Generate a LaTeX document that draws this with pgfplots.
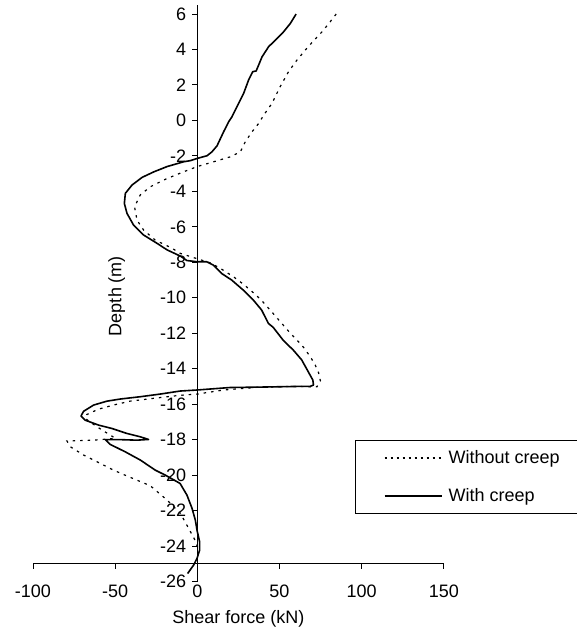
\documentclass[border=0pt]{standalone}
\usepackage{fontspec}
\setmainfont{Liberation Sans}
\usepackage{pgfplots}
\pgfplotsset{compat=1.18}

\begin{document}
\fontsize{18}{22}\selectfont
\begin{tikzpicture}
  \begin{axis}[
      at={(0,0)}, anchor=south west,
      scale only axis, width=410.8pt, height=576.3pt,
      xmin=-100, xmax=150, ymin=-26, ymax=6.5,
      axis x line=none, axis y line=middle,
      axis line style={-, line width=1pt},
      xtick=\empty,
      ytick={-26,-24,...,6},
      yticklabels={-26,-24,-22,-20,-18,-16,-14,-12,-10,-8,-6,-4,-2,0,2,4,6},
      tick align=outside, major tick length=5pt,
      tick style={black, line width=1pt},
      clip=false,
      legend image code/.code={\draw[#1] (0pt,0pt) -- (57pt,0pt);},
      legend style={at={(axis cs:96,-18.02)}, anchor=north west,
        draw=black, line width=1pt, inner xsep=28pt, inner ysep=10pt,
        row sep=22pt, column sep=6pt, nodes={inner sep=0pt},
        cells={anchor=west}},
    ]
    % without creep
    \addplot[forget plot, black, line width=1.2pt, dash pattern=on 2.5pt off 5pt] coordinates {
      (84.5,6.0) (80.9,5.57) (75.9,5.0) (70.8,4.5) (65.7,3.97) (60.6,3.4)
      (55.5,2.75) (50.4,1.9) (45.4,0.96) (40.4,0.3) (37.3,-0.17) (33.3,-0.64)
      (29.2,-1.2) (26.2,-1.77) (20.1,-2.05) (11,-2.3) (0,-2.6) (-9.3,-2.93)
      (-19.5,-3.32) (-28.6,-3.74) (-34.7,-4.2) (-38.2,-4.87) (-36.7,-5.62)
      (-32.7,-6.18) (-25.6,-6.75) (-15.5,-7.2) (-10.3,-7.5) (0,-7.8)
      (7.9,-8.03) (14,-8.34) (22.1,-8.82) (28,-9.23) (35.3,-9.81) (39.3,-10.17)
      (44.4,-10.7) (50.5,-11.35) (56.6,-12.0) (60.7,-12.39) (64.7,-12.8)
      (68.8,-13.33) (71.8,-13.8) (73.8,-14.23) (74.9,-14.68) (72.8,-15.02)
      (56.6,-15.0) (36.3,-15.05) (16,-15.2) (0,-15.43) (-10.5,-15.5)
      (-26.6,-15.67) (-40.9,-15.83) (-51,-16.05) (-60.1,-16.28) (-67.2,-16.58)
      (-68.2,-16.8) (-64.1,-17.08) (-58,-17.46) (-53,-17.74) (-49.9,-17.93)
      (-63.1,-18.03) (-79.3,-18.08) (-77.3,-18.4) (-69.2,-18.87) (-61,-19.25)
      (-51,-19.72) (-42.8,-20.05) (-28.6,-20.6) (-18.5,-21.4) (-10.3,-22.16)
      (-5.3,-23.0) (-1.4,-23.67) (0.3,-24.1)
    };
    % with creep
    \addplot[forget plot, black, line width=1.6pt, line join=round] coordinates {
      (60.1,6.0) (56.6,5.47) (52.5,5.0) (47.5,4.53) (43.4,4.16) (39.4,3.59)
      (37.3,3.12) (35.8,2.79) (33.7,2.75) (31.2,2.28) (28.2,1.53) (24.1,0.77)
      (21.1,0.21) (19.1,-0.07) (16,-0.64) (12,-1.43) (8.9,-1.77) (5.9,-1.99)
      (0,-2.14) (-4.4,-2.27) (-8.3,-2.33) (-18.4,-2.6) (-26.5,-2.9)
      (-33.6,-3.21) (-39.7,-3.64) (-43.8,-4.11) (-44.4,-4.68) (-42.8,-5.24)
      (-38.8,-5.9) (-32.7,-6.46) (-24.5,-6.93) (-18.4,-7.3) (-10.3,-7.65)
      (-6.3,-7.9) (0,-7.97) (5.7,-7.97) (9.8,-8.16) (14.8,-8.63) (20.9,-9.0)
      (28,-9.57) (34.1,-10.13) (39.2,-10.7) (43.2,-11.44) (46.2,-11.67)
      (52.3,-12.4) (58.4,-12.95) (63.5,-13.5) (67.5,-14.17) (70.3,-14.64)
      (70.7,-14.92) (68.6,-15.0) (60.5,-15.0) (36.3,-15.04) (20,-15.06)
      (0,-15.2) (-10.5,-15.26) (-22.6,-15.43) (-34.7,-15.58) (-46.9,-15.71)
      (-55,-15.83) (-63.1,-16.05) (-69.2,-16.4) (-70.8,-16.67) (-68.3,-16.9)
      (-60.1,-17.18) (-52,-17.37) (-42.9,-17.65) (-34.7,-17.84) (-29.7,-17.99)
      (-36.8,-18.03) (-46.9,-18.0) (-56,-18.0) (-53,-18.27) (-43.8,-18.69)
      (-34.7,-19.15) (-25.6,-19.72) (-19.5,-20.0) (-10.5,-20.47) (-6.3,-21.13)
      (-3.2,-21.88) (-1.2,-22.54) (-0.2,-23.1) (1.4,-23.76) (1.4,-24.23)
      (-0.2,-24.7) (-2.3,-25.08) (-5.9,-25.55)
    };
    \addlegendimage{black, line width=2pt, dash pattern=on 2.2pt off 3.8pt}
    \addlegendentry{Without creep}
    \addlegendimage{black, line width=1.6pt}
    \addlegendentry{With creep}
    % horizontal axis, crossing at -25
    \draw[line width=1pt] (axis cs:-100,-25) -- (axis cs:150,-25);
    \pgfplotsinvokeforeach{-100,-50,0,50,100,150}{
      \draw[line width=1pt] (axis cs:#1,-25) -- ++(0pt,-5pt);
      \node[inner sep=0pt, yshift=-9.5pt] at (axis cs:#1,-26) {#1};
    }
    \node[inner sep=0pt, yshift=-37.5pt] at (axis cs:25,-26) {Shear force (kN)};
    \node[inner sep=0pt, rotate=90] at (axis cs:-49,-9.9) {Depth (m)};
  \end{axis}
  \pgfresetboundingbox
  \path[use as bounding box] (-33pt,-52.5pt) rectangle (544pt,581.5pt);
\end{tikzpicture}
\end{document}
